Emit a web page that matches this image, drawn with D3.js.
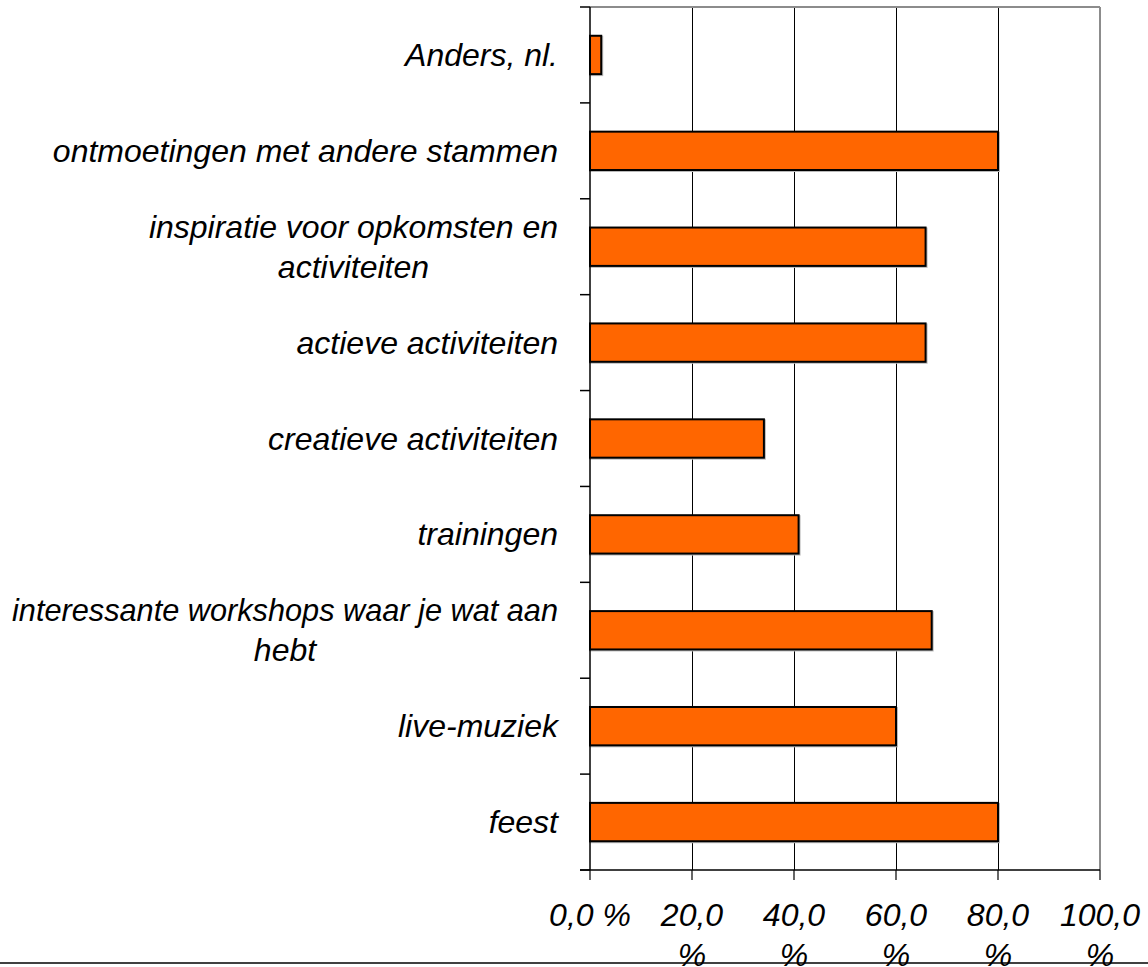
<!DOCTYPE html>
<html>
<head>
<meta charset="utf-8">
<script src="https://cdn.jsdelivr.net/npm/d3@7"></script>
<style>
  html, body { margin: 0; padding: 0; background: #fff; }
  svg { display: block; }
  text { font-family: "Liberation Sans", Arial, sans-serif; font-style: italic; fill: #000; }
</style>
</head>
<body>
<svg id="chart" width="1148" height="967"></svg>
<script>
// "\n" marks where the label wraps in the original chart
const categories = [
  "Anders, nl.",
  "ontmoetingen met andere stammen",
  "inspiratie voor opkomsten en\nactiviteiten",
  "actieve activiteiten",
  "creatieve activiteiten",
  "trainingen",
  "interessante workshops waar je wat aan\nhebt",
  "live-muziek",
  "feest"
];
const values = [2.2, 80, 65.8, 65.8, 34.1, 40.9, 67, 60, 80];
const xTicks = [0, 20, 40, 60, 80, 100];
const xTickLabels = ["0,0 %", "20,0\n%", "40,0\n%", "60,0\n%", "80,0\n%", "100,0\n%"];

(function () {
const svg = d3.select("#chart");
const pLeft = 590, pRight = 1100, pTop = 7, pBottom = 870;

const x = d3.scaleLinear().domain([0, 100]).range([pLeft, pRight]);
const y = d3.scaleBand().domain(categories).range([pTop, pBottom]).paddingInner(0.6).paddingOuter(0.3);

// gridlines
svg.append("g").selectAll("line").data(xTicks.filter(t => t > 0 && t < 100)).join("line")
  .attr("x1", d => x(d)).attr("x2", d => x(d))
  .attr("y1", pTop).attr("y2", pBottom)
  .attr("stroke", "#000").attr("stroke-width", 1).attr("shape-rendering", "crispEdges");

// plot border top & right (gray)
svg.append("line").attr("x1", pLeft).attr("x2", pRight).attr("y1", pTop).attr("y2", pTop)
  .attr("stroke", "#8c8c8c").attr("stroke-width", 2);
svg.append("line").attr("x1", pRight).attr("x2", pRight).attr("y1", pTop).attr("y2", pBottom)
  .attr("stroke", "#8c8c8c").attr("stroke-width", 2);

// bars (shadow + main)
const bars = svg.append("g");
bars.selectAll("rect.shadow").data(categories).join("rect").attr("class", "shadow")
  .attr("x", pLeft).attr("y", d => y(d) + 1)
  .attr("width", (d, i) => x(values[i]) - x(0) + 1)
  .attr("height", y.bandwidth())
  .attr("fill", "none").attr("stroke", "#bbb").attr("stroke-width", 2);
bars.selectAll("rect.bar").data(categories).join("rect").attr("class", "bar")
  .attr("x", pLeft).attr("y", d => y(d))
  .attr("width", (d, i) => x(values[i]) - x(0))
  .attr("height", y.bandwidth())
  .attr("fill", "#FF6600").attr("stroke", "#000").attr("stroke-width", 2);

// left axis
const boundaries = categories.map(c => y(c) - y.step() * y.paddingInner() / 2).concat([pBottom]);
boundaries[0] = pTop;
svg.append("line").attr("x1", pLeft).attr("x2", pLeft).attr("y1", pTop).attr("y2", pBottom)
  .attr("stroke", "#000").attr("stroke-width", 1.5);
svg.append("g").selectAll("line").data(boundaries).join("line")
  .attr("x1", pLeft - 10).attr("x2", pLeft).attr("y1", d => d).attr("y2", d => d)
  .attr("stroke", "#000").attr("stroke-width", 1.5);

// bottom axis
svg.append("line").attr("x1", pLeft - 10).attr("x2", pRight).attr("y1", pBottom).attr("y2", pBottom)
  .attr("stroke", "#000").attr("stroke-width", 1.5);
svg.append("g").selectAll("line").data(xTicks).join("line")
  .attr("x1", d => x(d)).attr("x2", d => x(d)).attr("y1", pBottom).attr("y2", pBottom + 10)
  .attr("stroke", "#000").attr("stroke-width", 1.2);

// measuring helper
const measurer = svg.append("text").attr("font-size", 32).attr("visibility", "hidden");
function measure(s) { measurer.text(s); return measurer.node().getComputedTextLength(); }

// category labels
const labelRight = 558, lineH = 40, maxW = 546;
categories.forEach(c => {
  const lines = c.split("\n");
  const widths = lines.map(measure);
  const w = Math.min(maxW, d3.max(widths));
  const cx = labelRight - w / 2;
  const cy = y(c) + y.bandwidth() / 2;
  const t = svg.append("text").attr("font-size", 32).attr("text-anchor", "middle");
  lines.forEach((ln, k) => {
    const ts = t.append("tspan").attr("x", cx)
      .attr("y", cy + (k - (lines.length - 1) / 2) * lineH + 11)
      .text(ln);
    if (widths[k] > maxW) ts.attr("textLength", maxW).attr("lengthAdjust", "spacingAndGlyphs");
  });
});

// x tick labels
xTicks.forEach((v, i) => {
  const lines = xTickLabels[i].split("\n");
  const t = svg.append("text").attr("font-size", 32).attr("text-anchor", "middle");
  lines.forEach((ln, k) => {
    t.append("tspan").attr("x", x(v)).attr("y", 926 + k * lineH).text(ln);
  });
});
measurer.remove();

// bottom rule
svg.append("line").attr("x1", 0).attr("x2", 1148).attr("y1", 963).attr("y2", 963)
  .attr("stroke", "#000").attr("stroke-width", 1.5);
})();
</script>
</body>
</html>
